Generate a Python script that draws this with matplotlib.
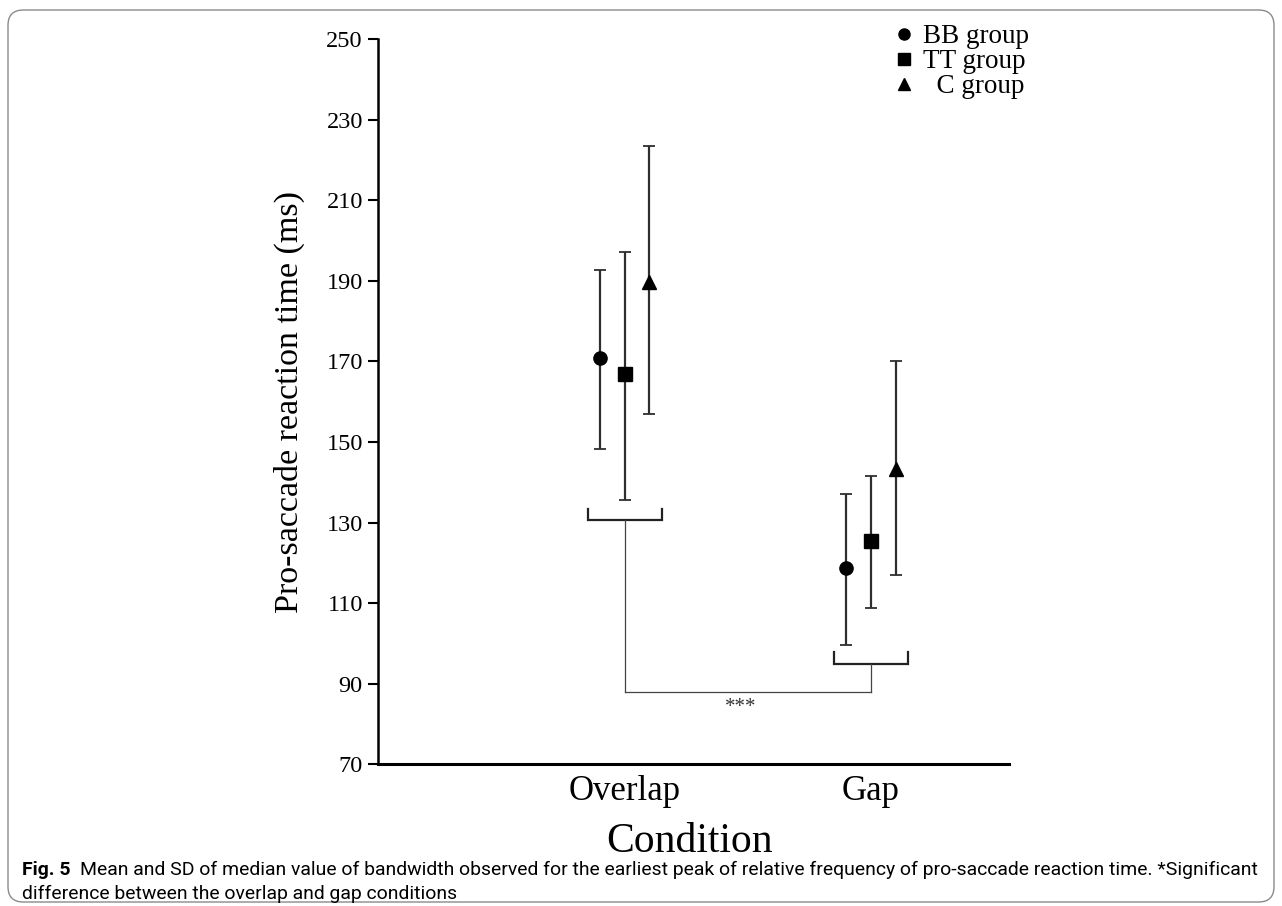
import matplotlib
matplotlib.use("Agg")
import matplotlib.pyplot as plt
import numpy as np
from matplotlib.lines import Line2D
from matplotlib.patches import FancyBboxPatch
from matplotlib import font_manager

# data (ms)
conditions = ["Overlap", "Gap"]
groups = ["BB group", "TT group", "C group"]
markers = ["o", "s", "^"]
bb_mean = [170.9, 118.8]
bb_low = [148.2, 99.6]
bb_high = [192.7, 137.1]
tt_mean = [166.9, 125.4]
tt_low = [135.6, 108.8]
tt_high = [197.1, 141.5]
c_mean = [189.8, 143.2]
c_low = [156.9, 116.9]
c_high = [223.5, 170.0]

# significance bracket heights
bracket_top = [133.3, 97.9]
bracket_base = [130.6, 94.9]
link_y = 88.0
star_y = 84.0

serif = "Liberation Serif"
installed = {f.name for f in font_manager.fontManager.ttflist}
cap_font = "Liberation Sans Narrow" if "Liberation Sans Narrow" in installed else "Roboto"

fig = plt.figure(figsize=(12.82, 9.06), dpi=100)
ax = fig.add_axes([0.2949, 0.1564, 0.4922, 0.8006])

xpos = np.arange(1, len(conditions) + 1)
offset = 0.1
means = [bb_mean, tt_mean, c_mean]
lows = [bb_low, tt_low, c_low]
highs = [bb_high, tt_high, c_high]
for i, (m, lo, hi, mk) in enumerate(zip(means, lows, highs, markers)):
    m = np.array(m)
    err = [m - np.array(lo), np.array(hi) - m]
    ax.errorbar(xpos + (i - 1) * offset, m, yerr=err, fmt=mk, color="black",
                ecolor="#2e2e2e", elinewidth=1.6, capsize=4, capthick=1.3,
                ms=9.5, zorder=3)

# brackets and significance link
half = 0.15
for xc, top, base in zip(xpos, bracket_top, bracket_base):
    ax.plot([xc - half, xc - half, xc + half, xc + half], [top, base, base, top],
            color="#222222", lw=1.6, solid_joinstyle="miter")
    ax.plot([xc, xc], [base, link_y], color="#444444", lw=0.9)
ax.plot([xpos[0], xpos[1]], [link_y, link_y], color="#444444", lw=0.9)
ax.text(xpos.mean() - 0.03, star_y, "***", ha="center", va="center",
        fontsize=15, family=serif, color="#333333")

ax.set_xlim(0, 2.56)
ax.set_ylim(70, 250)
ax.set_yticks(np.arange(70, 251, 20))
ax.set_xticks(xpos)
ax.set_xticklabels(conditions, family=serif, fontsize=25)
for lab in ax.get_yticklabels():
    lab.set_family(serif)
    lab.set_fontsize(17.5)
ax.tick_params(axis="x", length=0, pad=8)
ax.tick_params(axis="y", length=7, width=1.5, pad=4)
for s in ["top", "right"]:
    ax.spines[s].set_visible(False)
ax.spines["left"].set_linewidth(1.8)
ax.spines["bottom"].set_linewidth(2.2)

ax.set_ylabel("Pro-saccade reaction time (ms)", family=serif, fontsize=24.5)
ax.yaxis.set_label_coords(-0.116, 0.5)
fig.text(690 / 1282, 1 - 852 / 906, "Condition", family=serif, fontsize=30,
         ha="center", va="baseline")

handles = [Line2D([], [], marker=mk, ls="none", color="black", ms=8) for mk in markers]
labels = ["BB group", "TT group", "  C group"]
ax.legend(handles, labels, loc="upper left", bbox_to_anchor=(896 / 1282, 1 - 24 / 906),
          bbox_transform=fig.transFigure, frameon=False, handlelength=0.6,
          handletextpad=0.4, labelspacing=0.0, borderpad=0, borderaxespad=0,
          prop={"family": serif, "size": 19.5})

# frame and caption
fig.add_artist(FancyBboxPatch((8 / 1282, 4 / 906), 1266 / 1282, 892 / 906,
                              boxstyle="round,pad=0,rounding_size=0.012",
                              transform=fig.transFigure, fill=False,
                              edgecolor="#8a8a8a", lw=1.0, mutation_aspect=1282 / 906))
cap1 = ("Mean and SD of median value of bandwidth observed for the earliest peak of relative "
        "frequency of pro-saccade reaction time. *Significant")
cap2 = "difference between the overlap and gap conditions"
fig_lbl = fig.text(22 / 1282, 1 - 875 / 906, "Fig. 5", family=cap_font, weight="bold",
                   fontsize=14, color="black", va="baseline")
t1 = fig.text(0, 0, cap1, family=cap_font, fontsize=14, va="baseline")
t2 = fig.text(22 / 1282, 1 - 899 / 906, cap2, family=cap_font, fontsize=14, va="baseline")
fig.canvas.draw()
r = fig.canvas.get_renderer()
fb = fig_lbl.get_window_extent(r)
x_start = fb.x1 + 10
w = t1.get_window_extent(r).width
scale = (1262 - x_start) / w
for t in (fig_lbl, t1, t2):
    t.set_fontsize(14 * scale)
fig.canvas.draw()
fb = fig_lbl.get_window_extent(r)
t1.set_position(((fb.x1 + 10) / 1282, 1 - 875 / 906))

fig.savefig("out.png", dpi=100)
